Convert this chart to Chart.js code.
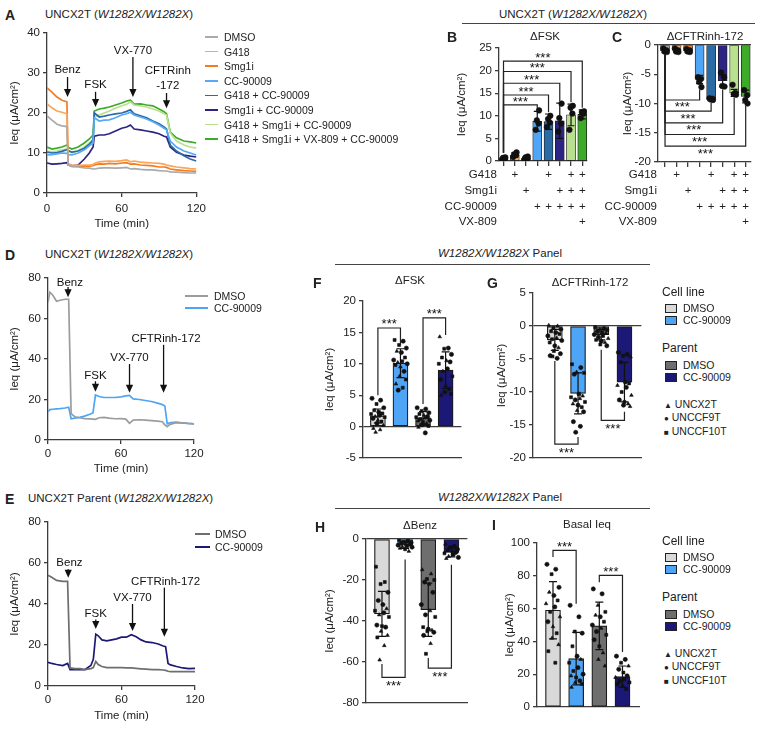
<!DOCTYPE html>
<html>
<head>
<meta charset="utf-8">
<script src="https://cdn.jsdelivr.net/npm/chart.js@4.4.1/dist/chart.umd.min.js"></script>
<style>
  html, body { margin: 0; padding: 0; background: #fff; }
  body { position: relative; width: 763px; height: 730px; overflow: hidden;
         font-family: "Liberation Sans", Arial, sans-serif; color: #222; }
  .t { position: absolute; white-space: nowrap; line-height: 1.15; }
  .r { position: absolute; background: #444; }
  canvas { position: absolute; }
</style>
</head>
<body>
<script>
/* ---------- Daten: Zeitverläufe ---------- */
const tA = [0, 4, 8, 12, 16, 17, 20, 25, 30, 34, 37, 38, 42, 46, 50, 55, 60, 64, 67, 70, 75, 80, 85, 90, 94, 96, 99, 104, 110, 115, 120];
const aDmso = [19.3, 18.2, 17.2, 16.8, 16.6, 7.0, 6.6, 6.5, 6.3, 6.2, 6.0, 6.0, 6.2, 6.3, 6.3, 6.2, 6.3, 6.4, 6.0, 6.1, 5.9, 5.8, 5.8, 5.6, 5.5, 5.5, 5.3, 5.2, 5.1, 5.0, 5.0];
const aG418 = [22.3, 21.3, 20.5, 20.2, 19.8, 7.2, 7.0, 6.9, 7.0, 7.0, 7.1, 7.4, 7.8, 7.9, 8.0, 7.9, 8.1, 8.3, 7.8, 8.0, 7.7, 7.6, 7.5, 7.4, 7.2, 7.0, 6.8, 6.5, 6.3, 6.1, 6.0];
const aSmg = [26.3, 25.2, 24.0, 23.2, 22.8, 7.3, 6.8, 6.7, 6.8, 6.7, 6.8, 7.0, 7.3, 7.2, 7.4, 7.3, 7.5, 7.6, 7.2, 7.3, 7.0, 6.9, 6.8, 6.5, 6.5, 6.4, 6.0, 5.8, 5.6, 5.5, 5.4];
const aCc = [9.5, 9.6, 9.8, 10.0, 9.9, 9.6, 9.5, 10.0, 10.8, 11.8, 12.5, 18.8, 18.0, 18.2, 18.3, 18.8, 19.5, 19.8, 20.2, 19.5, 19.0, 18.5, 17.8, 17.0, 16.2, 15.8, 13.0, 11.5, 10.5, 10.0, 9.5];
const aG418Cc = [10.2, 10.0, 10.1, 10.4, 10.8, 10.6, 10.2, 10.5, 11.2, 12.2, 13.2, 20.0, 19.0, 19.2, 19.5, 19.8, 20.0, 20.4, 20.8, 19.8, 19.3, 18.8, 18.0, 17.3, 16.5, 16.0, 12.0, 10.5, 9.3, 8.5, 8.0];
const aSmgCc = [7.5, 7.2, 7.3, 7.4, 7.6, 7.0, 6.8, 7.0, 8.5, 10.0, 11.5, 14.2, 14.5, 14.5, 14.8, 15.5, 16.2, 16.5, 17.0, 16.0, 15.8, 15.5, 15.2, 14.8, 14.2, 14.0, 11.5, 10.2, 9.5, 9.2, 9.0];
const aTriple = [10.5, 10.3, 10.5, 10.8, 11.0, 10.4, 10.0, 10.6, 11.5, 12.5, 13.5, 19.0, 19.5, 20.0, 20.5, 21.2, 21.8, 22.2, 22.8, 22.0, 21.8, 21.5, 21.0, 20.5, 19.8, 19.5, 15.0, 13.0, 12.0, 11.5, 11.2];
const aQuad = [11.5, 11.0, 11.2, 11.5, 12.0, 11.4, 11.0, 11.5, 12.5, 13.5, 14.5, 20.5, 21.0, 21.2, 21.5, 22.0, 22.5, 23.0, 23.2, 22.2, 22.3, 22.0, 21.8, 21.0, 20.3, 19.8, 15.2, 13.8, 13.0, 12.8, 12.5];

const tD = [0, 1.5, 4, 7, 10, 14, 17, 19, 22, 26, 30, 35, 37, 39, 42, 46, 50, 55, 60, 64, 67, 70, 75, 80, 85, 90, 94, 96, 98, 100, 105, 110, 115, 120];
const dDmso = [68, 73, 71.5, 68.5, 69, 69.5, 69.5, 13, 11.5, 11, 10.6, 10.4, 10.3, 10.2, 11.0, 11.2, 10.8, 10.5, 10.6, 10.3, 8.2, 9.8, 10.0, 9.8, 9.6, 9.3, 9.0, 7.5, 6.6, 7.6, 8.6, 8.5, 8.2, 8.0];
const dCc = [14, 15, 15.2, 15.4, 15.5, 15.8, 16.2, 10.5, 10.8, 11.2, 11.8, 12.8, 13.5, 22.2, 21.5, 21.0, 21.0, 21.0, 21.3, 21.8, 22.0, 20.3, 20.0, 19.5, 19.0, 18.2, 17.5, 16.8, 8.0, 8.5, 8.8, 8.5, 8.2, 8.0];

const tE = [0, 3, 7, 12, 16, 18, 22, 26, 30, 35, 37, 39, 41, 44, 48, 52, 56, 60, 64, 68, 72, 76, 80, 85, 90, 94, 96, 98, 100, 105, 110, 115, 120];
const eDmso = [54, 53, 51.5, 51, 51, 8.8, 8.5, 8.5, 8.0, 8.5, 9.0, 12.0, 10.5, 9.5, 9.0, 9.0, 9.0, 9.0, 8.8, 8.8, 8.6, 8.4, 8.2, 8.0, 8.0, 7.8, 7.6, 7.2, 7.0, 7.0, 7.0, 7.0, 7.0];
const eCc = [11.5, 11.0, 10.5, 10.0, 11.0, 8.0, 8.0, 8.0, 8.0, 10.0, 13.0, 25.3, 24.5, 22.5, 22.0, 22.5, 23.0, 23.8, 23.8, 25.0, 24.0, 22.5, 21.5, 21.2, 20.5, 19.5, 19.2, 11.0, 10.3, 9.5, 8.8, 8.5, 8.6];

/* ---------- Daten: Balken B / C ---------- */
const bMean = [0.5, 1.3, 0.6, 8.8, 8.7, 8.9, 10.2, 10.3];
const bErr = [0.2, 0.5, 0.3, 2.2, 1.7, 3.9, 2.4, 1.0];
const bDots = [[0.3, 0.5, 0.7, 0.8], [0.9, 1.3, 1.5, 1.9], [0.3, 0.5, 0.8, 1.0], [6.9, 8.3, 9.0, 11.2],
               [7.5, 8.5, 9.3, 10.0], [6.5, 8.3, 9.5, 12.7], [6.9, 10.5, 11.8, 12.2], [9.5, 10.5, 10.8, 11.0]];
const cMean = [-1.0, -0.9, -1.0, -5.9, -9.3, -6.1, -8.2, -8.8];
const cErr = [0.3, 0.3, 0.3, 0.7, 0.2, 1.0, 0.6, 1.1];
const cDots = [[-0.6, -0.9, -1.1, -1.2], [-0.6, -0.9, -1.1, -1.2], [-0.7, -0.9, -1.1, -1.2], [-5.5, -5.8, -6.3, -7.2],
               [-9.1, -9.2, -9.3, -9.4], [-4.7, -5.5, -7.0, -7.1], [-6.8, -8.2, -8.4, -8.5], [-7.7, -8.6, -9.4, -10.0]];
const rowNames = ['G418', 'Smg1i', 'CC-90009', 'VX-809'];
const rowG418 = [0, 1, 0, 0, 1, 0, 1, 1];
const rowSmg = [0, 0, 1, 0, 0, 1, 1, 1];
const rowCc = [0, 0, 0, 1, 1, 1, 1, 1];
const rowVx = [0, 0, 0, 0, 0, 0, 0, 1];
const bStarLines = [12.4, 14.6, 17.2, 19.8, 22.1];
const bStarEnds = [11.5, 10.8, 13.3, 13.0, 11.8];
const cStarLines = [-9.4, -11.3, -13.3, -15.3, -17.3];
const cStarEnds = [-7.6, -9.9, -7.6, -9.0, -10.4];

/* ---------- Daten: Panels F–I (Punkte + Zelllinie t/c/s) ---------- */
const fMean = [1.7, 10.1, 1.4, 9.0], fErr = [1.1, 2.3, 1.0, 2.9];
const fDmsoCell = [4.5, 4.2, 3.6, 3.0, 2.6, 2.3, 2.1, 2.0, 1.8, 1.6, 1.5, 1.3, 1.0, 0.8, 0.5, 0.2, -0.3, -0.5, -0.9];
const fCcCell = [13.8, 13.6, 13.0, 12.5, 12.0, 11.8, 11.0, 10.6, 10.4, 10.2, 10.0, 9.8, 9.5, 8.8, 8.0, 7.5, 6.8, 6.2, 5.8];
const fDmsoPar = [3.0, 2.8, 2.5, 2.2, 2.0, 1.8, 1.6, 1.5, 1.4, 1.2, 1.0, 0.9, 0.7, 0.5, 0.3, 0.1, -0.1, -1.0];
const fCcPar = [14.3, 12.5, 12.4, 11.5, 11.0, 10.5, 10.3, 10.0, 9.2, 8.8, 8.0, 7.5, 6.5, 6.0, 5.5, 5.2, 5.0];
const fShapes = ['ccscscssctsctsctttt', 'scsctcscstcstctstsc', 'ccscstcstsctstcstc', 'tcscstcsctsctscst'];

const gMean = [-2.1, -10.2, -1.3, -8.5], gErr = [1.6, 3.1, 0.8, 3.0];
const gDmsoCell = [0.1, 0.0, -0.3, -0.5, -0.8, -1.0, -1.2, -1.5, -1.8, -2.0, -2.2, -2.5, -3.0, -3.3, -3.8, -4.2, -4.5, -4.9, -4.6];
const gCcCell = [-5.8, -6.3, -7.0, -7.1, -7.3, -10.3, -10.6, -10.8, -11.0, -11.2, -11.5, -11.8, -12.0, -12.3, -12.8, -13.0, -14.5, -15.2, -16.1];
const gDmsoPar = [-0.2, -0.4, -0.5, -0.6, -0.8, -1.0, -1.1, -1.3, -1.5, -1.7, -1.9, -2.1, -2.3, -2.5, -2.8, -3.0];
const gCcPar = [-4.0, -4.3, -4.5, -4.7, -5.5, -8.5, -8.7, -9.0, -9.3, -10.0, -10.5, -11.2, -11.5, -11.8, -12.0, -12.2];
const gShapes = ['ttscscsctscsctscccs', 'sctscctstcstcstcccc', 'sctscstcsctsctsc', 'ccstscstcstcstct'];

const hMean = [-36.5, -3.0, -34.5, -6.5], hErr = [11, 1.6, 13, 2.2];
const hDmsoCell = [-13.5, -21, -22, -26, -30, -32, -34, -35, -36, -37, -38, -42, -42.5, -43, -45, -47, -48, -52, -59];
const hCcCell = [-0.5, -1, -1.5, -1.8, -2, -2.5, -2.8, -3, -3.5, -3.8, -4, -4.5, -5, -6];
const hDmsoPar = [-15, -17, -19.5, -20, -21, -22, -26, -32, -35, -37, -38, -43, -44, -44.5, -45, -45.5, -47, -51, -56];
const hCcPar = [-2.5, -3.5, -4, -5, -5.5, -6, -6.5, -7, -7.5, -8.5, -9, -9.5];
const hShapes = ['sssccctsctscscttstt', 'scscctscstctst', 'ttssctcctcssctsccts', 'tcscstcsctct'];

const iMean = [59, 29.5, 49.5, 18.5], iErr = [17.5, 16, 14.5, 6.5];
const iDmsoCell = [87, 84, 81, 73, 70, 68, 65, 63, 61, 58, 55, 52, 49, 45, 42, 38, 34, 27];
const iCcCell = [62, 55, 46, 45, 37, 31, 29, 27, 24, 22, 20, 19, 18, 16, 15, 14, 12];
const iDmsoPar = [72, 69, 62, 58, 56, 55, 52, 50, 48, 46, 44, 41, 37, 33, 29, 25];
const iCcPar = [31, 29, 27, 25, 23, 21, 19, 18, 17, 16, 15, 14, 13, 11];
const iShapes = ['ccsctcstcstctsttss', 'ccscsctscsctsctst', 'cctstcsctcscsttt', 'ccstcsctscscts'];

/* ---------- Stil ---------- */
const FONT = '"Liberation Sans", Arial, sans-serif';
const AX = '#3c3c3c';
const YT = 'Ieq (\u03bcA/cm\u00b2)';
const C4 = ['#d9d9d9', '#4ea5f5', '#6e6e6e', '#1c1876'];
const BC = ['#a8a8a8', '#f9a65a', '#f47b20', '#4fa6f6', '#2a6ba6', '#2b2482', '#b9e08e', '#3dab27'];
const SHAPE = { t: 'triangle', c: 'circle', s: 'rect' };
const JIT = [-0.26, 0.12, -0.06, 0.26, -0.16, 0.04, 0.2, -0.3, 0.08, -0.12, 0.3, -0.22, 0.0, 0.16, -0.04, 0.24, -0.2, 0.1, -0.1];
const JIT4 = [-0.14, 0.12, -0.04, 0.16];

Chart.defaults.font.family = FONT;
Chart.defaults.font.size = 11.5;
Chart.defaults.color = '#222';
Chart.defaults.animation = false;
Chart.defaults.plugins.legend.display = false;
Chart.defaults.plugins.tooltip.enabled = false;

/* ---------- HTML-Helfer ---------- */
function txt(html, x, y, o = {}) {
  const d = document.createElement('div');
  d.className = 't';
  d.innerHTML = html;
  d.style.left = x + 'px';
  d.style.top = y + 'px';
  d.style.fontSize = (o.size || 11.5) + 'px';
  if (o.bold) d.style.fontWeight = 'bold';
  const tx = o.align === 'center' ? '-50%' : o.align === 'right' ? '-100%' : '0';
  d.style.transform = 'translate(' + tx + ',-50%)';
  document.body.appendChild(d);
}
function rule(x1, x2, y, h, color) {
  const d = document.createElement('div');
  d.className = 'r';
  d.style.left = x1 + 'px'; d.style.top = y + 'px';
  d.style.width = (x2 - x1) + 'px'; d.style.height = (h || 1.3) + 'px';
  if (color) d.style.background = color;
  document.body.appendChild(d);
}
function swatch(x, y, color) {
  const d = document.createElement('div');
  d.style.cssText = 'position:absolute;left:' + x + 'px;top:' + (y - 4) + 'px;width:10px;height:7px;border:1px solid #222;background:' + color;
  document.body.appendChild(d);
}
function mount(box) {
  const c = document.createElement('canvas');
  c.width = box.cr - box.cl; c.height = box.cb - box.ct;
  c.style.left = box.cl + 'px'; c.style.top = box.ct + 'px';
  c.style.width = c.width + 'px'; c.style.height = c.height + 'px';
  document.body.appendChild(c);
  return c;
}

/* ---------- Achsen ---------- */
function yAxis(box, min, max, step, zero) {
  return {
    type: 'linear', min, max,
    afterFit: (s) => { s.width = box.L - box.cl; },
    afterBuildTicks: (s) => {
      const t = [];
      for (let v = min; v <= max + 1e-9; v += step) t.push({ value: v });
      s.ticks = t;
    },
    ticks: { padding: 3, color: '#222' },
    border: { color: AX, width: 1.3 },
    grid: zero
      ? { drawOnChartArea: true, lineWidth: 1.3, tickLength: 4, tickColor: AX,
          color: (ctx) => (ctx.tick && ctx.tick.value === 0 ? AX : 'rgba(0,0,0,0)') }
      : { drawOnChartArea: false, color: AX, lineWidth: 1.3, tickLength: 4 },
    title: { display: true, text: YT, color: '#222', padding: { top: box.yt, bottom: 0 } },
  };
}
function xTime(box, tickPad, titlePad) {
  return {
    type: 'linear', min: 0, max: 120,
    afterFit: (s) => { s.height = box.cb - box.B; },
    afterBuildTicks: (s) => { s.ticks = [0, 60, 120].map((v) => ({ value: v })); },
    ticks: { padding: tickPad, color: '#222' },
    border: { color: AX, width: 1.3 },
    grid: { drawOnChartArea: false, color: AX, lineWidth: 1.3, tickLength: 4 },
    title: { display: true, text: 'Time (min)', color: '#222', padding: { top: 0, bottom: titlePad } },
  };
}
function xBars(box, pos, min, max, tickMarks) {
  return {
    type: 'linear', min, max, offset: false,
    afterFit: (s) => { s.height = box.cb - box.B; },
    afterBuildTicks: (s) => { s.ticks = pos.map((v) => ({ value: v })); },
    ticks: { display: false },
    border: { color: AX, width: 1.3 },
    grid: tickMarks
      ? { drawOnChartArea: false, offset: false, color: AX, lineWidth: 1.3, tickLength: 5 }
      : { display: false, offset: false },
  };
}
function pad(box) {
  return { top: box.T - box.ct, right: box.cr - box.R, left: 0, bottom: 0 };
}

/* ---------- Pfeile mit Beschriftung (Zeitverläufe) ---------- */
function arrowsPlugin(items) {
  return {
    id: 'arrows',
    afterDatasetsDraw(chart) {
      const { ctx } = chart, x = chart.scales.x, y = chart.scales.y;
      ctx.save();
      ctx.fillStyle = '#111'; ctx.strokeStyle = '#111'; ctx.lineWidth = 1.3;
      ctx.font = '11.5px ' + FONT; ctx.textAlign = 'center'; ctx.textBaseline = 'middle';
      items.forEach((a) => {
        const px = x.getPixelForValue(a.t);
        const tx = x.getPixelForValue(a.tx !== undefined ? a.tx : a.t);
        a.text.forEach((s, k) => ctx.fillText(s, tx, y.getPixelForValue(a.ty[k])));
        const y1 = y.getPixelForValue(a.y1), y2 = y.getPixelForValue(a.y2);
        ctx.beginPath(); ctx.moveTo(px, y1); ctx.lineTo(px, y2 - 6); ctx.stroke();
        ctx.beginPath(); ctx.moveTo(px - 3.6, y2 - 8); ctx.lineTo(px + 3.6, y2 - 8); ctx.lineTo(px, y2);
        ctx.closePath(); ctx.fill();
      });
      ctx.restore();
    },
  };
}

/* ---------- Fehlerbalken, Signifikanz, +-Zeilen ---------- */
function decorPlugin(spec) {
  return {
    id: 'decor',
    afterDatasetDraw(chart, args) {
      if (args.index !== 0) return;
      const { ctx } = chart, xs = chart.scales.x, ys = chart.scales.y;
      ctx.save(); ctx.strokeStyle = '#111'; ctx.lineWidth = 1.2;
      spec.mean.forEach((m, i) => {
        const x = xs.getPixelForValue(spec.pos[i]);
        const y1 = ys.getPixelForValue(m - spec.err[i]), y2 = ys.getPixelForValue(m + spec.err[i]);
        ctx.beginPath();
        ctx.moveTo(x, y1); ctx.lineTo(x, y2);
        ctx.moveTo(x - spec.cap, y1); ctx.lineTo(x + spec.cap, y1);
        ctx.moveTo(x - spec.cap, y2); ctx.lineTo(x + spec.cap, y2);
        ctx.stroke();
      });
      ctx.restore();
    },
    afterDraw(chart) {
      const { ctx, chartArea } = chart, xs = chart.scales.x, ys = chart.scales.y;
      ctx.save();
      ctx.strokeStyle = '#222'; ctx.fillStyle = '#111'; ctx.lineWidth = 1.2;
      ctx.textAlign = 'center'; ctx.textBaseline = 'middle';
      ctx.font = '13px ' + FONT;
      (spec.brackets || []).forEach((b) => {
        const xa = xs.getPixelForValue(spec.pos[b.a]), xb = xs.getPixelForValue(spec.pos[b.b]);
        const yl = ys.getPixelForValue(b.y);
        ctx.beginPath();
        ctx.moveTo(xa, ys.getPixelForValue(b.ya)); ctx.lineTo(xa, yl);
        ctx.lineTo(xb, yl); ctx.lineTo(xb, ys.getPixelForValue(b.yb));
        ctx.stroke();
        ctx.fillText('***', (xa + xb) / 2, ys.getPixelForValue(b.s) + 2);
      });
      if (spec.rows) {
        ctx.font = '11.5px ' + FONT; ctx.fillStyle = '#222';
        spec.rows.forEach((r, k) => {
          const yy = chartArea.bottom + spec.rowOff[k];
          ctx.textAlign = 'right';
          ctx.fillText(r.name, chartArea.left - spec.rowGap, yy);
          ctx.textAlign = 'center';
          r.marks.forEach((m, i) => { if (m) ctx.fillText('+', xs.getPixelForValue(spec.pos[i]), yy); });
        });
      }
      ctx.restore();
    },
  };
}

/* ---------- Panel-Bauer ---------- */
function traceChart(box, t, series, yMax, yStep, arrows, tickPad, titlePad) {
  new Chart(mount(box), {
    type: 'line',
    data: {
      datasets: series.map((s) => ({
        data: t.map((x, i) => ({ x, y: s.v[i] })),
        borderColor: s.color, borderWidth: 1.7, pointRadius: 0, tension: 0, fill: false,
      })),
    },
    options: {
      responsive: false, devicePixelRatio: 1,
      layout: { padding: pad(box) },
      scales: { x: xTime(box, tickPad, titlePad), y: yAxis(box, 0, yMax, yStep, false) },
    },
    plugins: [arrowsPlugin(arrows)],
  });
}

function barChart(box, spec) {
  const pos = spec.mean.map((_, i) => i + 1);
  spec.pos = pos;
  const datasets = [{
    type: 'bar', order: 2,
    data: spec.mean.map((m, i) => ({ x: pos[i], y: m })),
    backgroundColor: spec.colors, borderColor: '#1a1a1a', borderWidth: spec.bw,
    borderSkipped: false, barThickness: spec.barW,
  }];
  spec.dots.forEach((vals, g) => {
    const jit = vals.length > 6 ? JIT : JIT4;
    datasets.push({
      type: 'scatter', order: 1,
      data: vals.map((v, i) => ({ x: pos[g] + jit[i % jit.length] * spec.spread, y: v })),
      pointStyle: spec.shapes ? spec.shapes[g].split('').map((c) => SHAPE[c]) : 'circle',
      pointRadius: spec.dotR, pointBorderWidth: 0.6,
      backgroundColor: '#111', borderColor: '#111',
    });
  });
  new Chart(mount(box), {
    type: 'bar',
    data: { datasets },
    options: {
      responsive: false, devicePixelRatio: 1,
      layout: { padding: pad(box) },
      scales: {
        x: xBars(box, pos, spec.xmin, spec.xmax, spec.xTicks),
        y: yAxis(box, spec.ymin, spec.ymax, spec.ystep, spec.zero),
      },
    },
    plugins: [decorPlugin(spec)],
  });
}

/* ---------- A ---------- */
traceChart({ cl: 8, ct: 23, cr: 211, cb: 231, L: 47, T: 33, R: 197, B: 193, yt: 0 }, tA, [
  { v: aDmso, color: '#aaaaaa' }, { v: aG418, color: '#f9a65a' }, { v: aSmg, color: '#f47b20' },
  { v: aCc, color: '#55a9f6' }, { v: aG418Cc, color: '#2a6ba6' }, { v: aSmgCc, color: '#2b2482' },
  { v: aTriple, color: '#b9e08e' }, { v: aQuad, color: '#3dab27' },
], 40, 10, [
  { text: ['Benz'], t: 16.5, ty: [30.75], y1: 29, y2: 24 },
  { text: ['FSK'], t: 39, ty: [27], y1: 25.3, y2: 21.5 },
  { text: ['VX-770'], t: 69, ty: [35.5], y1: 34, y2: 24 },
  { text: ['CFTRinh', '-172'], t: 96, tx: 97, ty: [30.5, 26.75], y1: 25, y2: 21.2 },
], 5, 0);

/* ---------- D ---------- */
traceChart({ cl: 8, ct: 268, cr: 208, cb: 477, L: 48, T: 278, R: 194, B: 440, yt: 0 }, tD, [
  { v: dDmso, color: '#9c9c9c' }, { v: dCc, color: '#4ea5f5' },
], 80, 20, [
  { text: ['Benz'], t: 16.5, tx: 18, ty: [77.5], y1: 75.5, y2: 70.5 },
  { text: ['FSK'], t: 39, ty: [31.6], y1: 29, y2: 23.8 },
  { text: ['VX-770'], t: 67, ty: [40.5], y1: 37.5, y2: 23.3 },
  { text: ['CFTRinh-172'], t: 95, tx: 97, ty: [49.9], y1: 47, y2: 23.3 },
], 3, 1);

/* ---------- E ---------- */
traceChart({ cl: 8, ct: 512, cr: 210, cb: 723, L: 48, T: 522, R: 195, B: 686, yt: 0 }, tE, [
  { v: eDmso, color: '#6e6e6e' }, { v: eCc, color: '#1c1876' },
], 80, 20, [
  { text: ['Benz'], t: 16.5, tx: 17.5, ty: [60], y1: 57, y2: 52.8 },
  { text: ['FSK'], t: 39, ty: [35.1], y1: 32.5, y2: 27.8 },
  { text: ['VX-770'], t: 69, ty: [42.9], y1: 40, y2: 26.8 },
  { text: ['CFTRinh-172'], t: 95, tx: 96, ty: [50.7], y1: 48, y2: 24 },
], 3, 0);

/* ---------- B / C ---------- */
const plusRows = [
  { name: rowNames[0], marks: rowG418 }, { name: rowNames[1], marks: rowSmg },
  { name: rowNames[2], marks: rowCc }, { name: rowNames[3], marks: rowVx },
];
barChart({ cl: 440, ct: 38, cr: 592, cb: 232, L: 499, T: 48, R: 587, B: 161, yt: 15 }, {
  mean: bMean, err: bErr, dots: bDots, colors: BC, bw: 0.8, barW: 9, dotR: 2.8, spread: 1, cap: 3.5,
  xmin: 0.6, xmax: 8.42, xTicks: true, ymin: 0, ymax: 25, ystep: 5, zero: false,
  brackets: bStarLines.map((y, k) => ({ a: 0, b: 3 + k, y, ya: 1.8, yb: bStarEnds[k], s: y + 1.1 })),
  rows: plusRows, rowOff: [14, 30, 46, 61], rowGap: 2,
});
barChart({ cl: 600, ct: 35, cr: 757, cb: 232, L: 658, T: 45, R: 751, B: 162, yt: 21 }, {
  mean: cMean, err: cErr, dots: cDots, colors: BC, bw: 0.8, barW: 9, dotR: 2.8, spread: 1, cap: 3.5,
  xmin: 0.39, xmax: 8.46, xTicks: true, ymin: -20, ymax: 0, ystep: 5, zero: true,
  brackets: cStarLines.map((y, k) => ({ a: 0, b: 3 + k, y, ya: -1.6, yb: cStarEnds[k], s: y - 1.0 })),
  rows: plusRows, rowOff: [13, 29, 45, 60], rowGap: 1,
});

/* ---------- F / G / H / I ---------- */
barChart({ cl: 320, ct: 291, cr: 466, cb: 468, L: 363, T: 301, R: 462, B: 458, yt: 3 }, {
  mean: fMean, err: fErr, dots: [fDmsoCell, fCcCell, fDmsoPar, fCcPar], shapes: fShapes,
  colors: C4, bw: 1.2, barW: 15, dotR: 2.1, spread: 1, cap: 4,
  xmin: 0.34, xmax: 4.7, xTicks: false, ymin: -5, ymax: 20, ystep: 5, zero: true,
  brackets: [{ a: 0, b: 1, y: 15.7, ya: 5.0, yb: 13.0, s: 16.6 }, { a: 2, b: 3, y: 17.3, ya: 3.6, yb: 14.6, s: 18.2 }],
});
barChart({ cl: 490, ct: 283, cr: 646, cb: 468, L: 533, T: 293, R: 642, B: 458, yt: 5 }, {
  mean: gMean, err: gErr, dots: [gDmsoCell, gCcCell, gDmsoPar, gCcPar], shapes: gShapes,
  colors: C4, bw: 1.2, barW: 15, dotR: 2.1, spread: 1, cap: 4,
  xmin: 0.06, xmax: 4.73, xTicks: false, ymin: -20, ymax: 5, ystep: 5, zero: true,
  brackets: [{ a: 0, b: 1, y: -17.9, ya: -5.3, yb: -16.8, s: -19.0 }, { a: 2, b: 3, y: -14.3, ya: -3.6, yb: -13.0, s: -15.4 }],
});
barChart({ cl: 320, ct: 529, cr: 472, cb: 713, L: 366, T: 539, R: 468, B: 703, yt: 3 }, {
  mean: hMean, err: hErr, dots: [hDmsoCell, hCcCell, hDmsoPar, hCcPar], shapes: hShapes,
  colors: C4, bw: 1.2, barW: 15, dotR: 2.1, spread: 1, cap: 4,
  xmin: 0.31, xmax: 4.69, xTicks: false, ymin: -80, ymax: 0, ystep: 20, zero: true,
  brackets: [{ a: 0, b: 1, y: -67.5, ya: -61, yb: -10, s: -71 }, { a: 2, b: 3, y: -63, ya: -58, yb: -12.5, s: -66.5 }],
});
barChart({ cl: 495, ct: 533, cr: 644, cb: 717, L: 537, T: 543, R: 640, B: 707, yt: 8 }, {
  mean: iMean, err: iErr, dots: [iDmsoCell, iCcCell, iDmsoPar, iCcPar], shapes: iShapes,
  colors: C4, bw: 1.2, barW: 15, dotR: 2.1, spread: 1, cap: 4,
  xmin: 0.31, xmax: 4.73, xTicks: false, ymin: 0, ymax: 100, ystep: 20, zero: false,
  brackets: [{ a: 0, b: 1, y: 95.5, ya: 91.5, yb: 63, s: 98.5 }, { a: 2, b: 3, y: 80.3, ya: 76, yb: 33.5, s: 83.3 }],
});

/* ---------- Beschriftung ---------- */
const STRAIN = '(<i>W1282X/W1282X</i>)';
txt('A', 5, 15, { bold: true, size: 14 });
txt('UNCX2T ' + STRAIN, 45, 15);
txt('UNCX2T ' + STRAIN, 573, 15, { align: 'center' });
rule(462, 755, 22.5);
txt('B', 447, 37, { bold: true, size: 14 });
txt('\u0394FSK', 545, 37, { align: 'center' });
txt('C', 612, 37, { bold: true, size: 14 });
txt('\u0394CFTRinh-172', 705, 37, { align: 'center' });

const legA = ['DMSO', 'G418', 'Smg1i', 'CC-90009', 'G418 + CC-90009', 'Smg1i + CC-90009',
              'G418 + Smg1i + CC-90009', 'G418 + Smg1i + VX-809 + CC-90009'];
const legAColors = ['#aaaaaa', '#f9a65a', '#f47b20', '#55a9f6', '#2a6ba6', '#2b2482', '#b9e08e', '#3dab27'];
legA.forEach((s, k) => {
  const y = 37 + k * 14.6;
  rule(205, 218, y - 0.8, 1.7, legAColors[k]);
  txt(s, 224, y, { size: 10.5 });
});

txt('D', 5, 255, { bold: true, size: 14 });
txt('UNCX2T ' + STRAIN, 45, 255);
rule(185, 208, 295.2, 1.7, '#9c9c9c'); txt('DMSO', 214, 296, { size: 10.5 });
rule(185, 208, 307.2, 1.7, '#4ea5f5'); txt('CC-90009', 214, 308, { size: 10.5 });

txt('E', 5, 499, { bold: true, size: 14 });
txt('UNCX2T Parent ' + STRAIN, 28, 499);
rule(195, 210, 533.2, 1.7, '#6e6e6e'); txt('DMSO', 215, 534, { size: 10.5 });
rule(195, 210, 546.2, 1.7, '#1c1876'); txt('CC-90009', 215, 547, { size: 10.5 });

txt('<i>W1282X/W1282X</i> Panel', 500, 254, { align: 'center' });
rule(335, 650, 263.5);
txt('F', 313, 283, { bold: true, size: 14 });
txt('\u0394FSK', 410, 281, { align: 'center' });
txt('G', 487, 283, { bold: true, size: 14 });
txt('\u0394CFTRinh-172', 590, 283, { align: 'center' });

txt('<i>W1282X/W1282X</i> Panel', 500, 498, { align: 'center' });
rule(335, 650, 507.5);
txt('H', 315, 527, { bold: true, size: 14 });
txt('\u0394Benz', 420, 526, { align: 'center' });
txt('I', 492, 525, { bold: true, size: 14 });
txt('Basal Ieq', 587, 525, { align: 'center' });

function cellLegend(y0) {
  txt('Cell line', 662, y0, { size: 12 });
  swatch(665, y0 + 15, C4[0]); txt('DMSO', 683, y0 + 15, { size: 10.5 });
  swatch(665, y0 + 27, C4[1]); txt('CC-90009', 683, y0 + 27, { size: 10.5 });
  txt('Parent', 662, y0 + 56, { size: 12 });
  swatch(665, y0 + 72, C4[2]); txt('DMSO', 683, y0 + 72, { size: 10.5 });
  swatch(665, y0 + 84, C4[3]); txt('CC-90009', 683, y0 + 84, { size: 10.5 });
  txt('<span style="font-size:8px">\u25b2</span> UNCX2T', 664, y0 + 111, { size: 10.5 });
  txt('<span style="font-size:8px">\u25cf</span> UNCCF9T', 664, y0 + 124, { size: 10.5 });
  txt('<span style="font-size:8px">\u25a0</span> UNCCF10T', 664, y0 + 138, { size: 10.5 });
}
cellLegend(293);
cellLegend(542);
</script>
</body>
</html>
